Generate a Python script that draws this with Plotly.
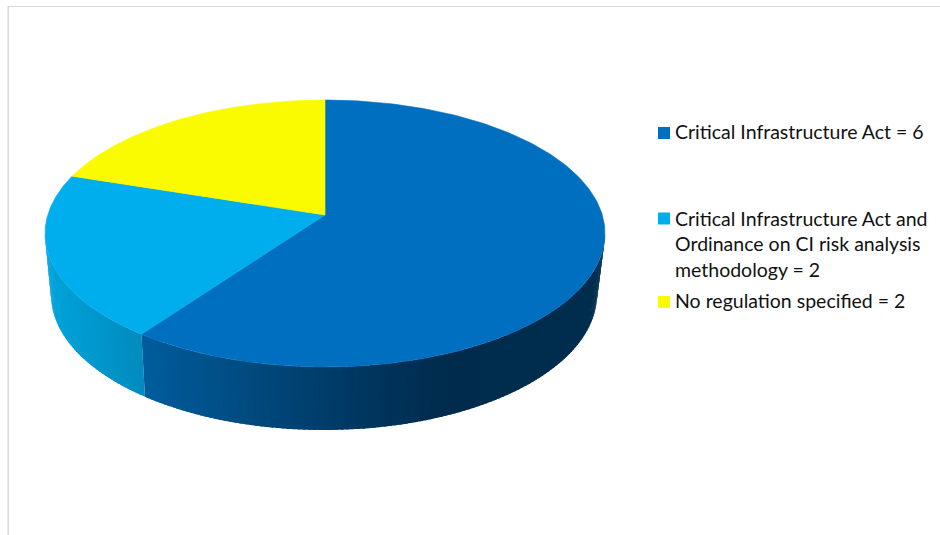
import numpy as np
import plotly.graph_objects as go

# Regulation named by each group of entities, in drawing order from 12 o'clock
categories = [
    "Critical Infrastructure Act",
    "Critical Infrastructure Act and<br>Ordinance on CI risk analysis<br>methodology",
    "No regulation specified",
]
values = [6, 2, 2]

top_colors = ["#006FBF", "#00AEEE", "#FAFB00"]

# Side-wall shading: (pixel x, rgb) stops per slice; the wall only shows on the front half
wall_stops = [
    [(146, (0, 92, 156)), (240, (0, 76, 130)), (340, (0, 58, 102)),
     (450, (0, 43, 76)), (605, (0, 45, 78))],
    [(45, (0, 164, 220)), (146, (0, 138, 188))],
    [(45, (200, 200, 0)), (605, (200, 200, 0))],
]

# Perspective of the tilted disc, in page pixels
APEX_X, APEX_Y = 325.0, 215.0
SPREAD_X, SPREAD_Y, TILT = 277.3, 130.9, 0.1386
RIM_MID_Y = 233.5
FLOOR_MID_X, FLOOR_MID_Y = 324.0, 294.5
FLOOR_SCALE_X, FLOOR_SCALE_Y = 0.975, 1.015


def project(theta):
    """Disc point for a clockwise angle from 12 o'clock, in radians."""
    w = 1 + TILT * np.cos(theta)
    return APEX_X + SPREAD_X * np.sin(theta) / w, APEX_Y - SPREAD_Y * np.cos(theta) / w


def project_floor(theta):
    x, y = project(theta)
    return FLOOR_MID_X + FLOOR_SCALE_X * (x - APEX_X), FLOOR_MID_Y + FLOOR_SCALE_Y * (y - RIM_MID_Y)


def shade(stops, x):
    xs = [s[0] for s in stops]
    rgb = [int(round(np.interp(x, xs, [s[1][c] for s in stops]))) for c in range(3)]
    return f"rgb({rgb[0]},{rgb[1]},{rgb[2]})"


def polygon(xs, ys, color, edge=0.0):
    return go.Scatter(
        x=xs, y=ys, mode="lines", fill="toself", fillcolor=color,
        line=dict(color=color, width=edge), hoverinfo="skip", showlegend=False,
    )


fig = go.Figure()

share = np.array(values, dtype=float) / sum(values)
edges = np.concatenate([[0.0], np.cumsum(share)]) * 2 * np.pi
left_limit = 2 * np.pi - np.arccos(-TILT)
right_limit = np.arccos(-TILT)

# Side walls: narrow overlapping strips so the shading steps show no seams
for i in (1, 0):
    start = max(edges[i], right_limit)
    stop = min(edges[i + 1], left_limit)
    if stop <= start:
        continue
    cuts = np.linspace(start, stop, int(np.degrees(stop - start)) + 2)
    for j in range(len(cuts) - 2, -1, -1):
        lo, hi = cuts[j], min(cuts[j + 1] + 0.012, stop)
        arc = np.linspace(lo, hi, 4)
        tx, ty = project(arc)
        bx, by = project_floor(arc)
        xs = np.concatenate([tx, bx[::-1], tx[:1]])
        ys = np.concatenate([ty, by[::-1], ty[:1]])
        fig.add_trace(polygon(xs, ys, shade(wall_stops[i], tx.mean())))

# Top face of each slice
for i, color in enumerate(top_colors):
    arc = np.linspace(edges[i], edges[i + 1], 240)
    ax, ay = project(arc)
    xs = np.concatenate([[APEX_X], ax, [APEX_X]])
    ys = np.concatenate([[APEX_Y], ay, [APEX_Y]])
    fig.add_trace(polygon(xs, ys, color, edge=0.6))

# Key on the right
key_y = [133, 218.5, 302]
text_y = [131, 243.5, 300.5]
fig.add_trace(go.Scatter(
    x=[664] * len(categories), y=key_y, mode="markers",
    marker=dict(symbol="square", size=12, color=top_colors, line=dict(width=0)),
    hoverinfo="skip", showlegend=False,
))
annotations = [
    dict(
        x=673, y=ty, xref="x", yref="y", xanchor="left", yanchor="middle", align="left",
        text=f"{name} = {value}", showarrow=False,
        font=dict(family="Lato", size=19.5, color="#111111"),
    )
    for name, value, ty in zip(categories, values, text_y)
]

fig.update_layout(
    width=940, height=535, autosize=False,
    margin=dict(l=0, r=0, t=0, b=0, pad=0),
    paper_bgcolor="white", plot_bgcolor="white",
    xaxis=dict(range=[0, 940], visible=False, fixedrange=True),
    yaxis=dict(range=[535, 0], visible=False, fixedrange=True),
    annotations=annotations,
    shapes=[
        dict(type="line", xref="x", yref="y", x0=8, x1=940, y0=6.5, y1=6.5,
             line=dict(color="#D9D9D9", width=1.2)),
        dict(type="line", xref="x", yref="y", x0=8.2, x1=8.2, y0=6, y1=535,
             line=dict(color="#D9D9D9", width=1.5)),
    ],
)

fig.write_html("out.html", config={"displayModeBar": False})
